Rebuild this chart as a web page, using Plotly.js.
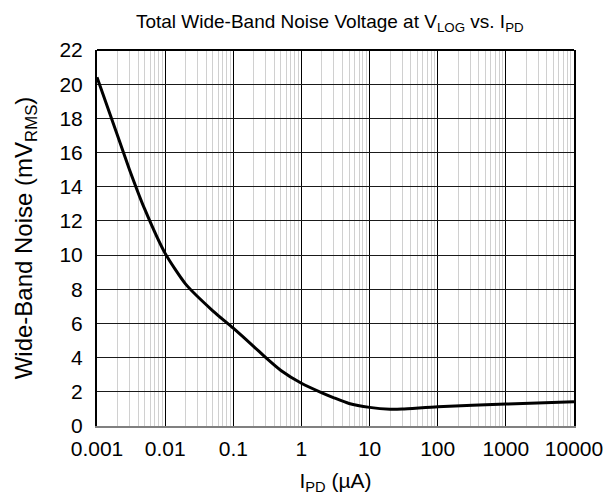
<!DOCTYPE html>
<html>
<head>
<meta charset="utf-8">
<script src="https://cdn.plot.ly/plotly-3.0.1.min.js"></script>
<style>html,body{margin:0;padding:0;background:#fff;}#chart{width:605px;height:502px;}</style>
</head>
<body>
<div id="chart"></div>
<script>
var currentUA = [0.001, 0.002, 0.003, 0.005, 0.01, 0.02, 0.05, 0.1, 0.2, 0.3, 0.5, 1, 2, 3, 5, 10, 20, 30, 100, 1000, 10000];
var noiseMV = [20.4, 17.0, 15.0, 12.7, 10.1, 8.3, 6.74, 5.72, 4.65, 4.0, 3.25, 2.5, 1.94, 1.65, 1.32, 1.09, 0.98, 0.99, 1.13, 1.28, 1.42];
var xTickVals = [0.001, 0.01, 0.1, 1, 10, 100, 1000, 10000];
var xTickText = ['0.001', '0.01', '0.1', '1', '10', '100', '1000', '10000'];

var font = 'Liberation Sans, Arial, sans-serif';
var trace = {
  x: currentUA, y: noiseMV, type: 'scatter', mode: 'lines',
  line: {color: '#000', width: 3, shape: 'spline', smoothing: 0.6},
  hoverinfo: 'skip'
};
var layout = {
  width: 605, height: 502,
  margin: {l: 97, r: 31, t: 50, b: 76},
  paper_bgcolor: '#fff', plot_bgcolor: '#fff',
  showlegend: false,
  font: {family: font, color: '#000', size: 21},
  title: {text: 'Total Wide-Band Noise Voltage at V<sub>LOG</sub> vs. I<sub>PD</sub>', font: {family: font, size: 19, color: '#000'}, xref: 'paper', x: 0.488, xanchor: 'center', yref: 'container', y: 0.958, yanchor: 'middle'},
  xaxis: {
    type: 'log', range: [-3, 4], tickvals: xTickVals, ticktext: xTickText,
    showgrid: true, gridcolor: '#000', gridwidth: 1,
    minor: {dtick: 'D1', showgrid: true, gridcolor: '#d0d0d0', gridwidth: 1, ticks: ''},
    ticks: '', showline: true, linecolor: '#808080', linewidth: 2, mirror: false,
    zeroline: false, tickfont: {size: 21}, ticklabelstandoff: 3,
    title: {text: 'I<sub>PD</sub> (µA)', font: {size: 21}, standoff: 14}
  },
  yaxis: {
    range: [0, 22], dtick: 2, tick0: 0,
    showgrid: true, gridcolor: '#1a1a1a', gridwidth: 1,
    ticks: '', showline: true, linecolor: '#000', linewidth: 2, mirror: true,
    zeroline: false, tickfont: {size: 21}, ticklabelstandoff: 8,
    title: {text: 'Wide-Band Noise (mV<sub>RMS</sub>)', font: {size: 24}, standoff: 20}
  },
  shapes: [{type: 'line', xref: 'paper', yref: 'paper', x0: 0, x1: 1, y0: 1, y1: 1, line: {color: '#000', width: 2}}]
};
Plotly.newPlot('chart', [trace], layout, {staticPlot: true, displayModeBar: false});
</script>
</body>
</html>
